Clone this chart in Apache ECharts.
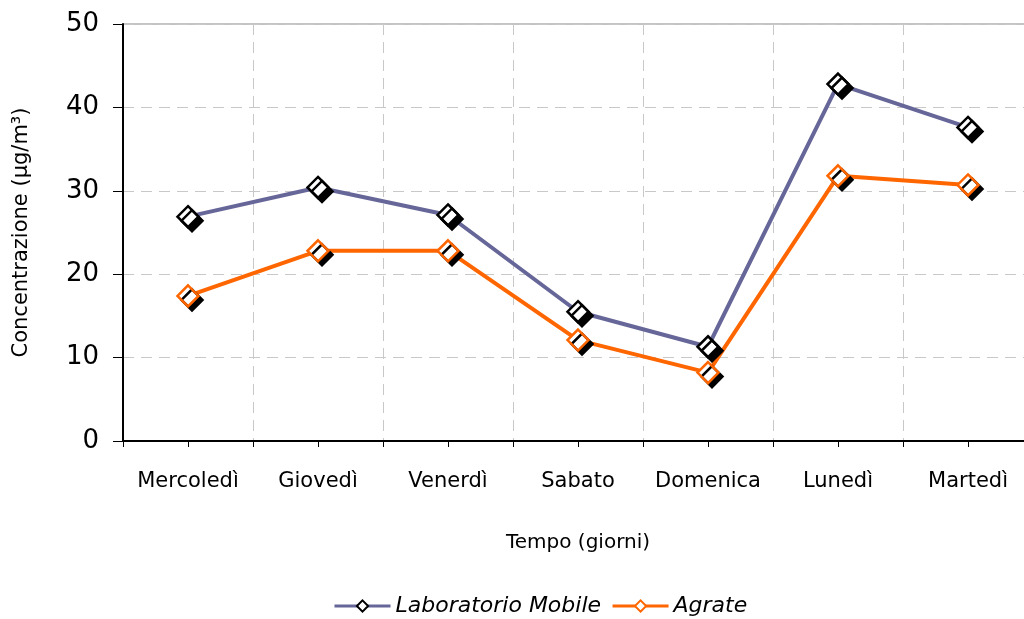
<!DOCTYPE html>
<html>
<head>
    <meta charset="utf-8">
    <title>Concentrazione</title>
    <script src="https://cdn.jsdelivr.net/npm/echarts@6/dist/echarts.min.js"></script>
    <style>
        html, body { margin: 0; padding: 0; background: #fff; overflow: hidden; }
        /* il grafico originale esce un po' a destra della finestra */
        #main { width: 1040px; height: 619px; }
    </style>
</head>
<body>
    <div id="main"></div>
    <script type="text/javascript">
        // dati
        var giorni = ['Mercoledì', 'Giovedì', 'Venerdì', 'Sabato', 'Domenica', 'Lunedì', 'Martedì'];
        var labMobile = [26.9, 30.4, 27.1, 15.5, 11.3, 42.8, 37.6];
        var agrate = [17.4, 22.8, 22.8, 12.1, 8.2, 31.8, 30.7];
        var yTicks = [0, 10, 20, 30, 40, 50];

        var font = 'DejaVu Sans';
        var myChart = echarts.init(document.getElementById('main'));

        function serie(nome, dati, colore, bordo) {
            return {
                name: nome,
                type: 'line',
                data: dati,
                symbol: 'diamond',
                symbolSize: 21,
                lineStyle: { color: colore, width: 4 },
                itemStyle: {
                    color: '#fff',
                    borderColor: bordo,
                    borderWidth: 2.5,
                    shadowColor: '#000',
                    shadowOffsetX: 4,
                    shadowOffsetY: 4,
                    shadowBlur: 0
                },
                emphasis: { disabled: true },
                z: 3
            };
        }

        var option = {
            animation: false,
            grid: {
                left: 123, top: 24, width: 910, height: 417,
                show: true, borderColor: '#888', borderWidth: 1
            },
            legend: {
                left: 328,
                bottom: -3,
                itemWidth: 56,
                itemHeight: 14,
                itemGap: 10,
                lineStyle: { width: 3 },
                textStyle: { fontFamily: font, fontSize: 22, fontStyle: 'italic', color: '#000' },
                data: [
                    { name: 'Laboratorio Mobile', itemStyle: { color: '#fff', borderColor: '#000', borderWidth: 2, shadowColor: 'transparent' } },
                    { name: 'Agrate', itemStyle: { color: '#fff', borderColor: '#ff6600', borderWidth: 2, shadowColor: 'transparent' } }
                ]
            },
            xAxis: [{
                type: 'category',
                data: giorni,
                boundaryGap: true,
                name: 'Tempo (giorni)',
                nameLocation: 'middle',
                nameGap: 92,
                nameTextStyle: { fontFamily: font, fontSize: 20, color: '#000' },
                axisLine: { lineStyle: { color: '#000', width: 2 } },
                axisTick: { show: true, interval: 0, length: 6, lineStyle: { color: '#000' } },
                axisLabel: { fontFamily: font, fontSize: 21, color: '#000', margin: 30, interval: 0 },
                splitLine: { show: true, interval: 0, lineStyle: { color: '#c8c8c8', type: [11, 7] } }
            }, {
                type: 'category',
                data: giorni,
                position: 'bottom',
                boundaryGap: true,
                axisLine: { show: false },
                axisTick: { show: true, alignWithLabel: true, interval: 0, length: 6, lineStyle: { color: '#000' } },
                axisLabel: { show: false },
                splitLine: { show: false }
            }],
            yAxis: {
                type: 'value',
                min: yTicks[0],
                max: yTicks[yTicks.length - 1],
                interval: 10,
                name: 'Concentrazione (μg/m³)',
                nameLocation: 'middle',
                nameGap: 91,
                nameTextStyle: { fontFamily: font, fontSize: 21, color: '#000' },
                axisLine: { show: true, lineStyle: { color: '#000', width: 2 } },
                axisTick: { show: true, length: 10, lineStyle: { color: '#000' } },
                axisLabel: { fontFamily: font, fontSize: 26, color: '#000', margin: 24 },
                splitLine: { show: true, lineStyle: { color: '#c8c8c8', type: [11, 7] } }
            },
            series: [
                serie('Laboratorio Mobile', labMobile, '#666699', '#000'),
                serie('Agrate', agrate, '#ff6600', '#ff6600')
            ]
        };
        myChart.setOption(option);
    </script>
</body>
</html>
